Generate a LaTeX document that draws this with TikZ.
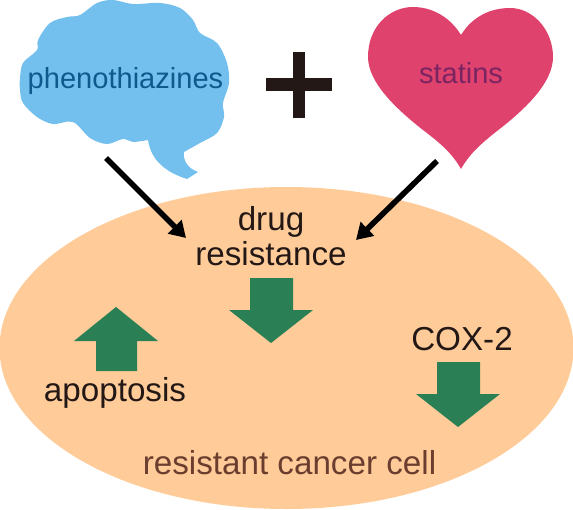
\documentclass[tikz,border=0pt]{standalone}
\usepackage{fontspec}
\setmainfont{Liberation Sans}
\usetikzlibrary{arrows.meta}
\definecolor{cellcol}{HTML}{FFCC99}
\definecolor{cloudcol}{HTML}{73C0EE}
\definecolor{cloudtxt}{HTML}{0F5A8C}
\definecolor{heartcol}{HTML}{E0426E}
\definecolor{hearttxt}{HTML}{7A2462}
\definecolor{markcol}{HTML}{2A7F55}
\definecolor{plustxt}{HTML}{231815}
\definecolor{celltxt}{HTML}{6B3D2E}

\begin{document}
\begin{tikzpicture}[
    x=0.75pt, y=-0.75pt,
    every node/.style={inner sep=0pt, outer sep=0pt, anchor=base, text=plustxt},
    drugtxt/.style={font=\fontsize{21.8}{26}\selectfont},
    celllbl/.style={font=\fontsize{24.9}{30}\selectfont},
    bigarr/.style={-{Triangle[length=12pt, width=14pt]}, line width=4.2pt, draw=black},
    markarr/.style={fill=markcol, draw=none},
]
\useasboundingbox (0, 0) rectangle (573, 509);

% === Cell ===
\fill[cellcol] (286.5, 348) ellipse [x radius=287, y radius=161];

% === Cloud ===
\fill[cloudcol] (148, 140)
    plot[smooth, tension=0.55] coordinates {(148,140) (133,142) (123,139) (107,144) (90,138)
        (73,122) (53,124) (37,117) (23,103) (20,90) (20,78) (23,63) (37,50) (38,40)
        (50,23) (67,17) (80,15) (97,3) (113,0) (133,4) (160,3) (180,8) (193,20)
        (200,33) (217,43) (227,63) (229,83) (223,103) (224,117) (217,133) (200,143)
        (184,152)}
    .. controls (183,160) and (187,168) .. (198,172)
    -- (187,179)
    .. controls (165,172) and (151,160) .. (148,140) -- cycle;

% === Heart ===
\fill[heartcol] (461, 35)
    .. controls (450,17) and (432,7) .. (413,7)
    .. controls (390,7) and (368,26) .. (368,57)
    .. controls (368,82) and (395,108) .. (423,130)
    .. controls (440,143) and (452,153) .. (461,169)
    .. controls (470,153) and (482,143) .. (497,131)
    .. controls (527,108) and (553,82) .. (553,57)
    .. controls (553,30) and (533,8) .. (510,8)
    .. controls (490,8) and (472,17) .. (461,35) -- cycle;

% === Plus ===
\fill[plustxt] (266, 78) rectangle (332, 91);
\fill[plustxt] (293, 52) rectangle (305, 118);

% === Labels ===
\node[drugtxt, text=cloudtxt] (pheno) at (125.5, 89) {phenothiazines};
\node[drugtxt, text=hearttxt] (statins) at (461, 84) {statins};
\node[celllbl] (drug) at (271, 230) {drug};
\node[celllbl] (resist) at (271, 265) {resistance};
\node[celllbl] (apop) at (115, 401) {apoptosis};
\node[celllbl] (cox) at (462, 350) {COX-2};
\node[celllbl, text=celltxt] (cancer) at (289.5, 474) {resistant cancer cell};

% === Green arrows ===
\fill[markarr] (116,307) -- (158,341) -- (137,341) -- (137,371) -- (96,371) -- (96,341) -- (74,341) -- cycle;
\fill[markarr] (271,343) -- (313,310) -- (293,310) -- (293,278) -- (250,278) -- (250,310) -- (229,310) -- cycle;
\fill[markarr] (458,427) -- (500,394) -- (480,394) -- (480,362) -- (437,362) -- (437,394) -- (416,394) -- cycle;

% === Drug arrows ===
\coordinate (phenoend) at (106, 158);
\coordinate (resleft) at (186, 238);
\coordinate (statend) at (437, 161);
\coordinate (resright) at (356, 240);
\draw[bigarr] (phenoend) -- (resleft);
\draw[bigarr] (statend) -- (resright);

\end{tikzpicture}
\end{document}
